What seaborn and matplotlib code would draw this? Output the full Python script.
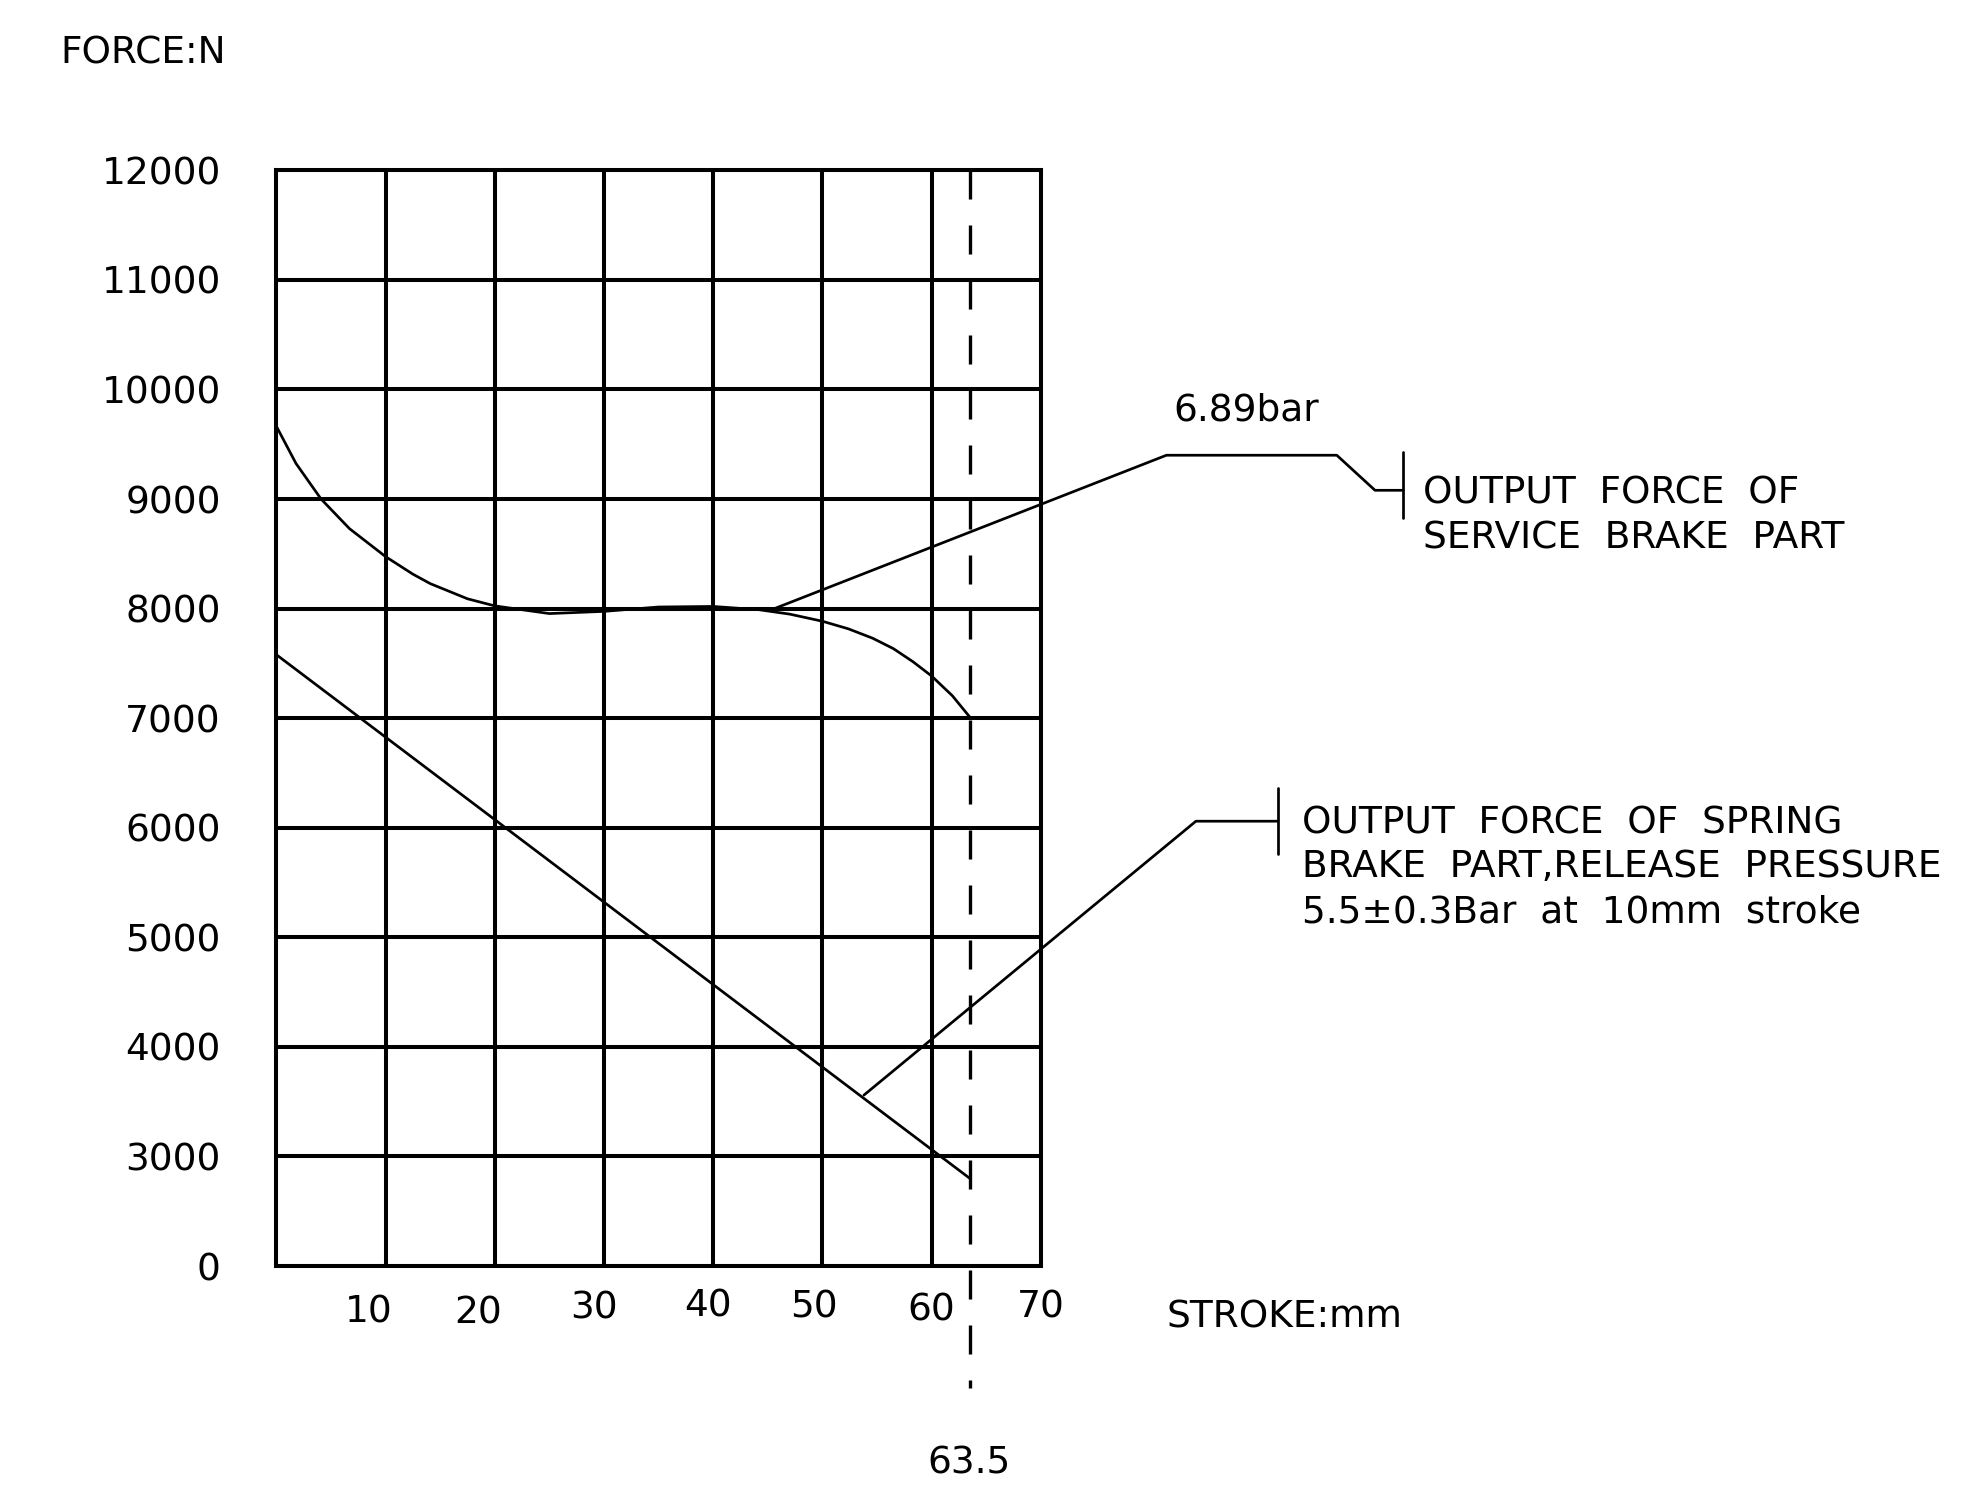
import numpy as np
import pandas as pd
import matplotlib
matplotlib.use("Agg")
import matplotlib.pyplot as plt
import seaborn as sns

# Données (course en mm, force en N)
stroke_service = [0, 1.8, 4.1, 6.7, 10, 12.5, 14.1, 17.5, 20, 25, 30, 35, 40,
                  44.2, 47, 50, 52.4, 54.6, 56.5, 58.3, 60, 61.9, 63.5]
force_service = [9665, 9325, 9000, 8730, 8475, 8315, 8228, 8090, 8025, 7955,
                 7975, 8015, 8020, 7990, 7950, 7885, 7815, 7730, 7635, 7515,
                 7385, 7205, 7010]

stroke_spring = [0, 63.5]
force_spring = [7580, 2800]

y_tick_labels = ["0", "3000", "4000", "5000", "6000", "7000", "8000",
                 "9000", "10000", "11000", "12000"]
x_tick_labels = ["10", "20", "30", "40", "50", "60", "70"]
stroke_mark = 63.5

# Repères des lignes de rappel (mm, N)
service_leader_x = [45.6, 81.5, 97.1, 100.6, 103.2]
service_leader_y = [8000, 9400, 9400, 9080, 9080]
spring_leader_x = [53.8, 84.2, 91.7]
spring_leader_y = [3560, 6060, 6060]


def to_axis(force):
    # axe coupé : 0 puis 3000..12000 à pas régulier
    return (np.asarray(force, dtype=float) - 2000) / 1000


sns.set_style("white")
plt.rcParams["font.family"] = ["DejaVu Sans"]
plt.rcParams["text.color"] = "black"
plt.rcParams["ytick.color"] = "black"
plt.rcParams["ytick.labelcolor"] = "black"
FS = 27
GRID_LW = 2.9
LINE_LW = 1.95

fig = plt.figure(figsize=(19.78, 14.93), dpi=100)
ax = fig.add_axes([0.1397, 0.152, 0.3865, 0.7339])

df_service = pd.DataFrame({"stroke": stroke_service, "pos": to_axis(force_service)})
df_spring = pd.DataFrame({"stroke": stroke_spring, "pos": to_axis(force_spring)})
sns.lineplot(data=df_service, x="stroke", y="pos", color="black", lw=LINE_LW,
             ax=ax, sort=False, zorder=3)
sns.lineplot(data=df_spring, x="stroke", y="pos", color="black", lw=LINE_LW,
             ax=ax, sort=False, zorder=3)

ax.set_xlim(0, 70)
ax.set_ylim(0, 10)
ax.set_xticks(range(0, 71, 10))
ax.set_yticks(range(len(y_tick_labels)))
ax.set_yticklabels(y_tick_labels, fontsize=FS, color="black")
ax.tick_params(axis="y", length=0, pad=40)
ax.tick_params(axis="x", length=0, labelbottom=False)
ax.grid(True, color="black", lw=GRID_LW)
ax.set_axisbelow(True)
for sp in ax.spines.values():
    sp.set_color("black")
    sp.set_linewidth(GRID_LW)
ax.set(xlabel="", ylabel="")

# étiquettes x décalées comme sur le plan
x_label_pos = [8.5, 18.5, 29.1, 39.5, 49.2, 60.0, 70.0]
x_label_y = [-0.42, -0.43, -0.39, -0.37, -0.38, -0.41, -0.38]
for xp, yp, lab in zip(x_label_pos, x_label_y, x_tick_labels):
    ax.text(xp, yp, lab, fontsize=FS, ha="center", va="center", clip_on=False)

# ligne pointillée de fin de course
dash_lw = 2.4
ax.plot([stroke_mark, stroke_mark], [10, -1.11], color="black", lw=dash_lw,
        ls=(0, (20.9 / dash_lw, 18.7 / dash_lw)), clip_on=False, zorder=4)
ax.text(stroke_mark - 0.1, -1.80, "63.5", fontsize=FS, ha="center", va="center")

# titres d'axes
ax.text(-19.75, 11.07, "FORCE:N", fontsize=FS, ha="left", va="center")
ax.text(81.55, -0.47, "STROKE:mm", fontsize=FS, ha="left", va="center")

# rappel frein de service
ax.plot(service_leader_x, to_axis(service_leader_y), color="black",
        lw=LINE_LW, clip_on=False)
ax.plot([service_leader_x[-1]] * 2, to_axis([8830, 9425]), color="black",
        lw=LINE_LW, clip_on=False)
ax.text(82.1, 7.81, "6.89bar", fontsize=FS, ha="left", va="center")
ax.text(105.0, 7.05, "OUTPUT  FORCE  OF", fontsize=FS, ha="left", va="center")
ax.text(105.0, 6.64, "SERVICE  BRAKE  PART", fontsize=FS, ha="left", va="center")

# rappel frein à ressort
ax.plot(spring_leader_x, to_axis(spring_leader_y), color="black",
        lw=LINE_LW, clip_on=False)
ax.plot([spring_leader_x[-1]] * 2, to_axis([5760, 6360]), color="black",
        lw=LINE_LW, clip_on=False)
ax.text(93.9, 4.04, "OUTPUT  FORCE  OF  SPRING", fontsize=FS, ha="left", va="center")
ax.text(93.9, 3.64, "BRAKE  PART,RELEASE  PRESSURE", fontsize=FS, ha="left", va="center")
ax.text(93.9, 3.23, "5.5±0.3Bar  at  10mm  stroke", fontsize=FS, ha="left", va="center")

fig.savefig("out.png", dpi=100)
plt.close(fig)
